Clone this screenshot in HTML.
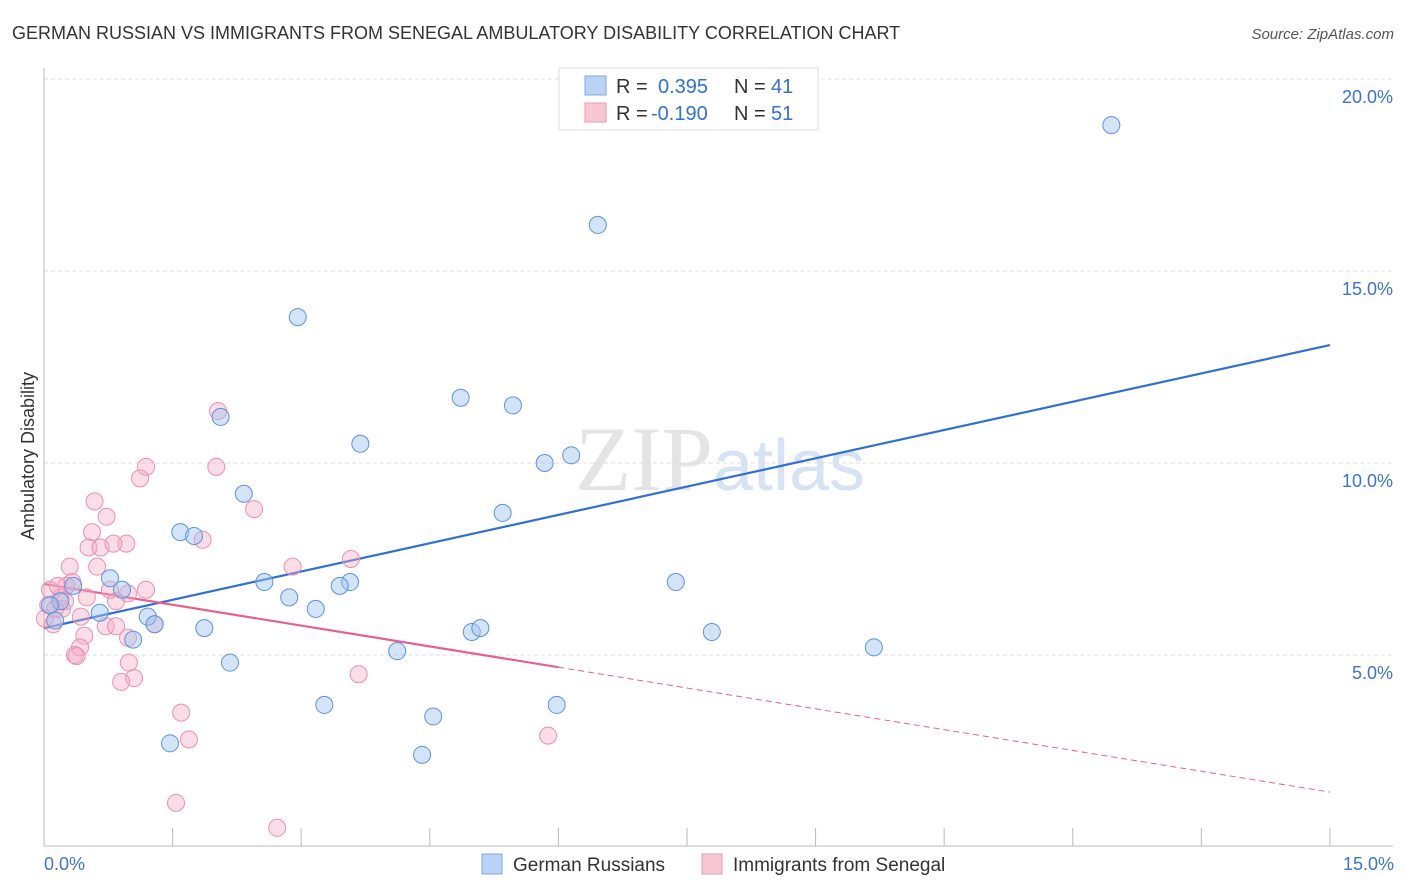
<!DOCTYPE html>
<html><head><meta charset="utf-8"><style>
body{margin:0;background:#fff;font-family:"Liberation Sans",sans-serif;}
svg{display:block}
</style></head><body>
<svg id="chart" width="1406" height="892" xmlns="http://www.w3.org/2000/svg">
<text x="12" y="39" font-size="18" fill="#333">GERMAN RUSSIAN VS IMMIGRANTS FROM SENEGAL AMBULATORY DISABILITY CORRELATION CHART</text>
<text x="1394" y="39" font-size="15" fill="#555" font-style="italic" text-anchor="end">Source: ZipAtlas.com</text>
<text x="720" y="490" font-size="92" fill="#e4e4e4" text-anchor="middle" font-family="Liberation Serif,serif">ZIP<tspan fill="#d5e3f5" font-family="Liberation Sans,sans-serif" font-size="72">atlas</tspan></text>
<text transform="translate(34,456) rotate(-90)" font-size="18" fill="#333" text-anchor="middle">Ambulatory Disability</text>
<g id="grid"></g><g id="axes"></g><g id="lines"></g><g id="pts"></g>
<g>
<rect x="559" y="68" width="259" height="62" fill="#fff" stroke="#ddd"/>
<rect x="585" y="76" width="21" height="19" fill="#b9d3f4" stroke="#7eaae6"/>
<rect x="585" y="103" width="21" height="19" fill="#f9c6d4" stroke="#ec9ab2"/>
<text x="616" y="93" font-size="20" fill="#333">R =</text><text x="658" y="93" font-size="20" fill="#3470d0">0.395</text>
<text x="734" y="93" font-size="20" fill="#333">N =</text><text x="771" y="93" font-size="20" fill="#3470d0">41</text>
<text x="616" y="120" font-size="20" fill="#333">R =</text><text x="651" y="120" font-size="20" fill="#3470d0">-0.190</text>
<text x="734" y="120" font-size="20" fill="#333">N =</text><text x="771" y="120" font-size="20" fill="#3470d0">51</text>
</g>
<g>
<rect x="482" y="854" width="20" height="20" fill="#b9d3f4" stroke="#7eaae6"/>
<text x="513" y="871" font-size="19" fill="#333">German Russians</text>
<rect x="702" y="854" width="20" height="20" fill="#f9c6d4" stroke="#ec9ab2"/>
<text x="733" y="871" font-size="19" fill="#333">Immigrants from Senegal</text>
</g>
</svg>
<script>
const blueX=[12.45,6.46,2.96,4.86,5.47,2.06,3.69,5.84,6.15,2.33,5.35,1.59,1.75,7.37,2.57,3.57,3.45,0.77,0.91,2.86,3.17,0.65,1.21,1.29,1.87,4.99,5.09,7.79,1.04,4.12,9.68,2.17,3.27,5.98,4.54,1.47,4.41,0.19,0.34,0.07,0.13];
const blueY=[18.8,16.2,13.8,11.7,11.5,11.2,10.5,10.0,10.2,9.2,8.7,8.2,8.1,6.9,6.9,6.9,6.8,7.0,6.7,6.5,6.2,6.1,6.0,5.8,5.7,5.6,5.7,5.6,5.4,5.1,5.2,4.8,3.7,3.7,3.4,2.7,2.4,6.4,6.8,6.3,5.9];
const pinkX=[2.03,1.19,2.01,1.12,0.59,2.45,0.73,0.56,1.85,0.52,0.96,0.66,0.81,3.58,2.90,0.30,0.62,0.33,0.26,1.19,0.77,0.98,0.84,0.50,0.19,0.21,0.43,0.72,0.84,1.29,0.98,0.47,0.42,0.36,0.38,0.99,1.05,0.90,3.67,1.60,1.69,5.88,1.54,2.72,0.07,0.05,0.13,0.105,0.01,0.16,0.245];
const pinkY=[11.35,9.9,9.9,9.6,9.0,8.8,8.6,8.2,8.0,7.8,7.9,7.8,7.9,7.5,7.3,7.3,7.3,6.9,6.8,6.7,6.7,6.6,6.4,6.5,6.5,6.2,6.0,5.75,5.75,5.8,5.45,5.5,5.2,5.0,4.97,4.8,4.4,4.3,4.5,3.5,2.8,2.9,1.15,0.5,6.7,6.3,6.2,5.8,5.95,6.8,6.4];
const blueFit=[5.70,13.07];
const pinkFit=[6.85,1.43];
const pinkSolidEnd=6.0;
const yTicks=[5,10,15,20];
const xTickLabels=["0.0%","15.0%"];
const NS="http://www.w3.org/2000/svg";
const X=v=>44+v*85.73, Y=v=>847-v*38.4;
function mk(tag,attrs,parent){const e=document.createElementNS(NS,tag);for(const k in attrs)e.setAttribute(k,attrs[k]);document.getElementById(parent).appendChild(e);return e;}
yTicks.forEach(t=>{
 const g=mk('line',{x1:44,x2:1393,y1:Y(t),y2:Y(t),stroke:'#ddd','stroke-dasharray':'4,3'},'grid');
 
 
 const l=mk('text',{x:1393,y:Y(t)+24,'font-size':18,fill:'#3a73d4','text-anchor':'end'},'grid');
 l.textContent=t.toFixed(1)+'%';
 
 
});
let a=mk('line',{x1:44,x2:44,y1:68,y2:846,stroke:'#bbb'},'axes');


a=mk('line',{x1:44,x2:1393,y1:846,y2:846,stroke:'#bbb'},'axes');


for(let i=1;i<=10;i++){const t=mk('line',{x1:X(i*1.5),x2:X(i*1.5),y1:828,y2:846,stroke:'#bbb'},'axes');
 
 }
[[0,'start',44],[15,'end',1394]].forEach((d,i)=>{const t=mk('text',{x:d[2],y:870,'font-size':18,fill:'#3a73d4','text-anchor':d[1]},'axes');t.textContent=xTickLabels[i];
 
 });
const fy=(f,x)=>f[0]+(f[1]-f[0])*x/15;
let ln=mk('line',{x1:X(0),y1:Y(fy(blueFit,0)),x2:X(15),y2:Y(fy(blueFit,15)),stroke:'#2f6fd6','stroke-width':2.2},'lines');


ln=mk('line',{x1:X(0),y1:Y(fy(pinkFit,0)),x2:X(pinkSolidEnd),y2:Y(fy(pinkFit,pinkSolidEnd)),stroke:'#e8608a','stroke-width':2.2},'lines');


ln=mk('line',{x1:X(pinkSolidEnd),y1:Y(fy(pinkFit,pinkSolidEnd)),x2:X(15),y2:Y(fy(pinkFit,15)),stroke:'#e8608a','stroke-width':1,'stroke-dasharray':'6,4'},'lines');


pinkX.forEach((x,i)=>{const c=mk('circle',{cx:X(x),cy:Y(pinkY[i]),r:8.5,fill:'rgba(246,170,195,0.4)',stroke:'#eb90ae','stroke-width':1},'pts');
 
 });
blueX.forEach((x,i)=>{const c=mk('circle',{cx:X(x),cy:Y(blueY[i]),r:8.5,fill:'rgba(160,195,240,0.45)',stroke:'#5b93e0','stroke-width':1},'pts');
 
 });
</script>
</body></html>
